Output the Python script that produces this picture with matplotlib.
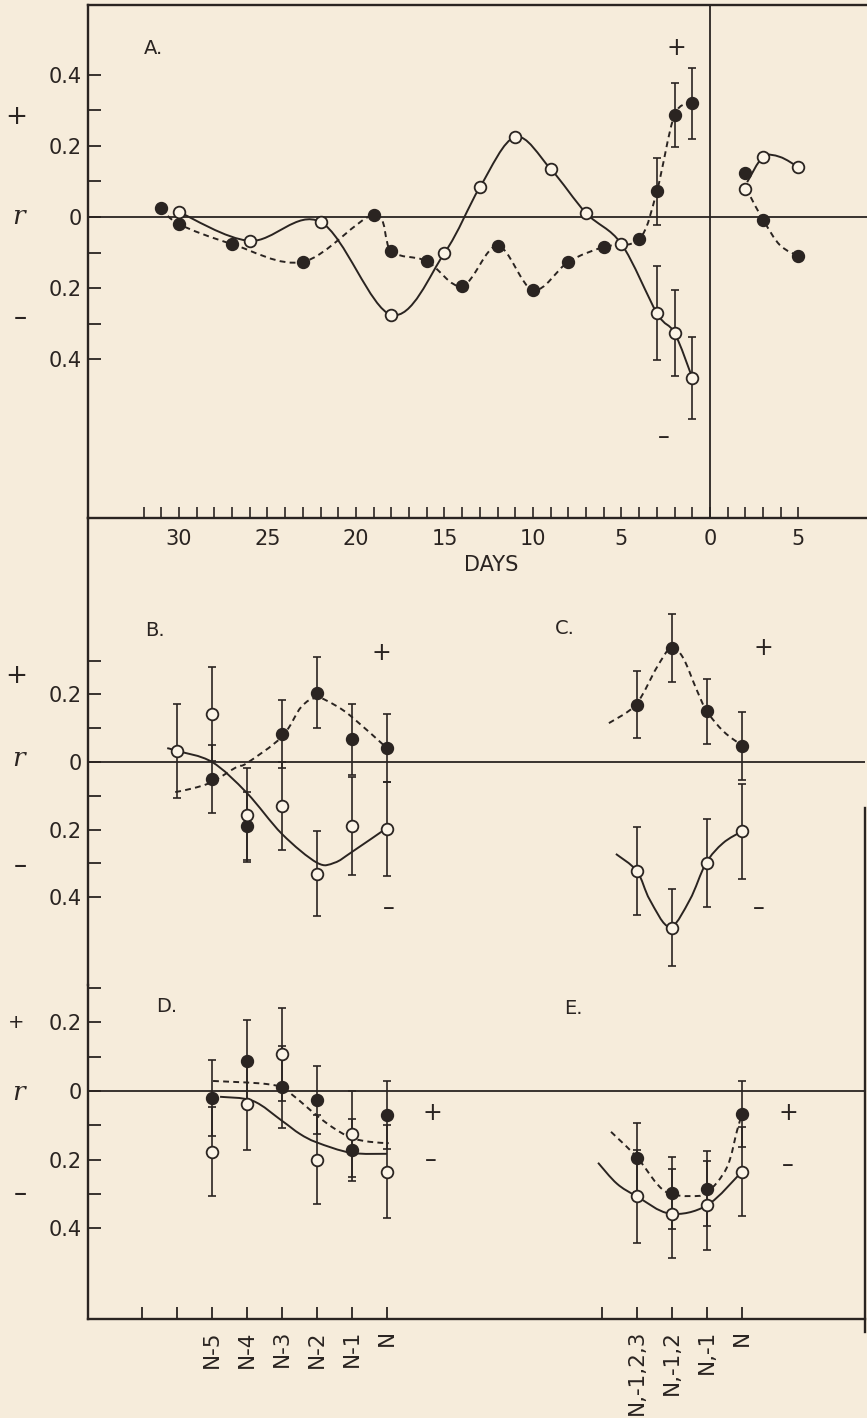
import numpy as np
import matplotlib
matplotlib.use('Agg')
import matplotlib.pyplot as plt
from matplotlib.path import Path
from matplotlib.patches import PathPatch
from matplotlib.lines import Line2D

plt.rcParams['font.family'] = ['DejaVu Sans']

# ------------------------------------------------------------------ data
# Panel A : correlation r versus days before (and after) event day 0
A_fill_days = [31, 30, 27, 23, 19, 18, 16, 14, 12, 10, 8, 6, 4, 3, 2, 1]
A_fill_r = [0.025, -0.02, -0.076, -0.126, 0.006, -0.096, -0.124, -0.194, -0.081,
            -0.205, -0.126, -0.084, -0.062, 0.073, 0.287, 0.32]
A_open_days = [30, 26, 22, 18, 15, 13, 11, 9, 7, 5, 3, 2, 1]
A_open_r = [0.014, -0.067, -0.014, -0.275, -0.101, 0.084, 0.225, 0.135, 0.011,
            -0.076, -0.27, -0.326, -0.452]
A_err_days = [3, 2, 1]
A_fill_err = [0.094, 0.089, 0.10]
A_open_err = [0.132, 0.12, 0.115]
A_after_days = [2, 3, 5]
A_after_fill_r = [0.124, -0.008, -0.11]
A_after_open_r = [0.079, 0.169, 0.14]
# hand-drawn connecting curves after day 0 (days, r)
A_after_solid_x = [2.1, 3, 3.95, 5]
A_after_solid_r = [0.098, 0.169, 0.169, 0.14]
A_after_dash_x = [2.3, 3, 3.95, 5]
A_after_dash_r = [0.056, -0.008, -0.079, -0.11]

A_major_days = [-30, -25, -20, -15, -10, -5, 0, 5]
A_major_labels = ['30', '25', '20', '15', '10', '5', '0', '5']

# Left group categories (panels B, D)
left_cats = ['', '', 'N-5', 'N-4', 'N-3', 'N-2', 'N-1', 'N']
# Right group categories (panels C, E)
right_cats = ['', 'N,-1,2,3', 'N,-1,2', 'N,-1', 'N']

# Panel B (category index into left_cats; 1 = N-6)
B_open_idx = [1, 2, 3, 4, 5, 6, 7]
B_open_r = [0.033, 0.142, -0.157, -0.13, -0.33, -0.19, -0.198]
B_open_err = [0.14, 0.14, 0.14, 0.13, 0.125, 0.145, 0.14]
B_fill_idx = [2, 3, 4, 5, 6, 7]
B_fill_r = [-0.051, -0.19, 0.083, 0.205, 0.068, 0.042]
B_fill_err = [0.10, 0.10, 0.10, 0.105, 0.105, 0.10]
B_solid_x = [0.72, 1, 2, 3, 4, 5, 5.5, 6, 7]
B_solid_r = [0.041, 0.033, 0.0, -0.092, -0.213, -0.298, -0.298, -0.266, -0.195]
B_dash_x = [0.95, 1.45, 2, 2.7, 3, 4, 4.55, 5, 5.5, 6, 7]
B_dash_r = [-0.089, -0.078, -0.059, -0.015, -0.003, 0.075, 0.163, 0.19, 0.169, 0.133, 0.041]

# Panel C (category index into right_cats)
C_idx = [1, 2, 3, 4]
C_fill_r = [0.17, 0.337, 0.15, 0.047]
C_fill_err = [0.10, 0.10, 0.097, 0.10]
C_open_r = [-0.323, -0.49, -0.30, -0.205]
C_open_err = [0.13, 0.115, 0.13, 0.14]
C_dash_x = [0.2, 0.97, 1.57, 1.97, 2.31, 2.71, 3.0, 3.49, 4.03]
C_dash_r = [0.115, 0.17, 0.28, 0.337, 0.31, 0.213, 0.15, 0.089, 0.047]
C_solid_x = [0.4, 1.0, 1.37, 1.94, 2.51, 2.97, 3.46, 4.0]
C_solid_r = [-0.272, -0.323, -0.408, -0.488, -0.408, -0.30, -0.24, -0.205]

# Panel D (category index into left_cats)
D_idx = [2, 3, 4, 5, 6, 7]
D_fill_r = [-0.02, 0.087, 0.012, -0.026, -0.171, -0.07]
D_fill_err = [0.11, 0.12, 0.12, 0.10, 0.09, 0.10]
D_open_r = [-0.177, -0.038, 0.107, -0.2, -0.125, -0.235]
D_open_err = [0.13, 0.135, 0.135, 0.13, 0.125, 0.135]
D_dash_x = [2.03, 3.57, 4.14, 5.0, 5.46, 5.97, 6.5, 7.05]
D_dash_r = [0.029, 0.02, 0.0, -0.072, -0.107, -0.136, -0.148, -0.152]
D_solid_x = [2.23, 3.17, 4.0, 4.51, 5.0, 5.97, 7.0]
D_solid_r = [-0.017, -0.029, -0.087, -0.125, -0.15, -0.18, -0.183]

# Panel E (category index into right_cats)
E_idx = [1, 2, 3, 4]
E_fill_r = [-0.194, -0.296, -0.284, -0.067]
E_fill_err = [0.10, 0.105, 0.11, 0.095]
E_open_r = [-0.307, -0.357, -0.333, -0.235]
E_open_err = [0.135, 0.13, 0.13, 0.13]
E_dash_x = [0.26, 1.0, 1.57, 1.94, 2.51, 3.0, 3.57, 3.86, 4.0]
E_dash_r = [-0.119, -0.193, -0.27, -0.299, -0.306, -0.296, -0.223, -0.116, -0.067]
E_solid_x = [-0.11, 0.43, 1.0, 1.94, 3.0, 4.0]
E_solid_r = [-0.209, -0.27, -0.307, -0.357, -0.333, -0.235]

# r-axis ticks
A_r_major = [0.4, 0.2, 0.0, -0.2, -0.4]
A_r_labels = ['0.4', '0.2', '0', '0.2', '0.4']
A_r_minor = [0.3, 0.1, -0.1, -0.3]
low_r_major = [0.2, 0.0, -0.2, -0.4]
low_r_labels = ['0.2', '0', '0.2', '0.4']
low_r_minor = [0.3, 0.1, -0.1, -0.3]

# ------------------------------------------------------------------ style
W, H = 867, 1418
BG = '#f6ecdb'
INK = '#2a2421'
OPEN_FACE = '#fbf4e7'
RIGHT_OFF = 13.14      # position of the right category group

fig = plt.figure(figsize=(W / 100, H / 100), dpi=100, facecolor=BG)


def px_axes(x0, y0, x1, y1):
    ax = fig.add_axes([x0 / W, 1 - y1 / H, (x1 - x0) / W, (y1 - y0) / H])
    ax.set_facecolor('none')
    for s in ax.spines.values():
        s.set_color(INK)
        s.set_linewidth(1.7)
    return ax


def ftext(px, py, s, **kw):
    kw.setdefault('ha', 'center')
    kw.setdefault('va', 'center')
    kw.setdefault('color', INK)
    fig.text(px / W, 1 - py / H, s, **kw)


def smooth_path(xs, ys):
    pts = np.column_stack([np.asarray(xs, float), np.asarray(ys, float)])
    n = len(pts)
    verts = [pts[0]]
    codes = [Path.MOVETO]
    for i in range(n - 1):
        p0 = pts[i - 1] if i > 0 else pts[i]
        p1, p2 = pts[i], pts[i + 1]
        p3 = pts[i + 2] if i + 2 < n else pts[i + 1]
        verts += [p1 + (p2 - p0) / 6.0, p2 - (p3 - p1) / 6.0, p2]
        codes += [Path.CURVE4] * 3
    return Path(verts, codes)


def curve(ax, xs, ys, dashed):
    ls = (0, (3.0, 2.2)) if dashed else '-'
    ax.add_patch(PathPatch(smooth_path(xs, ys), fill=False, ec=INK, lw=1.4,
                           ls=ls, zorder=2, capstyle='butt', clip_on=False))


def errs(ax, x, y, e):
    c = ax.errorbar(x, y, yerr=e, fmt='none', ecolor=INK, elinewidth=1.2,
                    capsize=3.0, capthick=1.2, zorder=3)
    for a in c.get_children():
        a.set_clip_on(False)


def filled(ax, x, y):
    ax.plot(x, y, 'o', ls='none', ms=8.6, mfc=INK, mec=INK, zorder=5, clip_on=False)


def opened(ax, x, y):
    ax.plot(x, y, 'o', ls='none', ms=8.4, mfc=OPEN_FACE, mec=INK, mew=1.3,
            zorder=5, clip_on=False)


def r_axis(ax, major, labels, minor, ylim):
    ax.set_yticks(major)
    ax.set_yticklabels(labels)
    ax.set_yticks(minor, minor=True)
    ax.set_ylim(*ylim)
    ax.tick_params(axis='y', which='both', direction='in', length=9, width=1.3,
                   color=INK, labelsize=15, labelcolor=INK, pad=4.5,
                   left=True, right=False)


# ------------------------------------------------------------------ panel A
axA = px_axes(88, 5, 867, 518)
axA.set_xlim(-35.14, 8.87)
axA.spines['right'].set_visible(False)
axA.axhline(0, color=INK, lw=1.3, zorder=1)
axA.axvline(0, color=INK, lw=1.3, zorder=1)
r_axis(axA, A_r_major, A_r_labels, A_r_minor, (-0.846, 0.596))
axA.set_xticks(A_major_days)
axA.set_xticklabels(A_major_labels)
minor_days = [-d for d in range(1, 33)] + list(range(1, 6))
axA.set_xticks([d for d in minor_days if d not in A_major_days], minor=True)
axA.set_xlim(-35.14, 8.87)
axA.tick_params(axis='x', which='both', direction='in', length=8, width=1.2,
                color=INK, labelsize=15, labelcolor=INK, pad=8,
                top=False, bottom=True)

fx = [-d for d in A_fill_days]
ox = [-d for d in A_open_days]
curve(axA, ox, A_open_r, dashed=False)
curve(axA, fx, A_fill_r, dashed=True)
curve(axA, A_after_solid_x, A_after_solid_r, dashed=False)
curve(axA, A_after_dash_x, A_after_dash_r, dashed=True)
ex = [-d for d in A_err_days]
errs(axA, ex, A_fill_r[-3:], A_fill_err)
errs(axA, ex, A_open_r[-3:], A_open_err)
filled(axA, fx, A_fill_r)
opened(axA, ox, A_open_r)
filled(axA, A_after_days, A_after_fill_r)
opened(axA, A_after_days, A_after_open_r)

# ------------------------------------------------------------------ panels B, C
XL = (-1.543, 20.657)
SPLIT = 985   # pixel row separating the B/C and D/E blocks
axBC = px_axes(88, 518, 865, SPLIT)
axBC.set_xlim(*XL)
for s in ('top', 'right', 'bottom'):
    axBC.spines[s].set_visible(False)
axBC.tick_params(axis='x', which='both', bottom=False, top=False,
                 labelbottom=False)
axBC.axhline(0, color=INK, lw=1.3, zorder=1)
r_axis(axBC, low_r_major, low_r_labels, low_r_minor,
       ((762 - SPLIT) / 338, (762 - 518) / 338))

curve(axBC, B_solid_x, B_solid_r, dashed=False)
curve(axBC, B_dash_x, B_dash_r, dashed=True)
errs(axBC, B_open_idx, B_open_r, B_open_err)
errs(axBC, B_fill_idx, B_fill_r, B_fill_err)
filled(axBC, B_fill_idx, B_fill_r)
opened(axBC, B_open_idx, B_open_r)

cx = [RIGHT_OFF + i for i in C_idx]
curve(axBC, [RIGHT_OFF + v for v in C_dash_x], C_dash_r, dashed=True)
curve(axBC, [RIGHT_OFF + v for v in C_solid_x], C_solid_r, dashed=False)
errs(axBC, cx, C_fill_r, C_fill_err)
errs(axBC, cx, C_open_r, C_open_err)
filled(axBC, cx, C_fill_r)
opened(axBC, cx, C_open_r)

# ------------------------------------------------------------------ panels D, E
axDE = px_axes(88, SPLIT, 865, 1319)
for s in ('top', 'right'):
    axDE.spines[s].set_visible(False)
axDE.axhline(0, color=INK, lw=1.3, zorder=1)
r_axis(axDE, low_r_major, low_r_labels, low_r_minor,
       ((1090 - 1319) / 345, (1090 - SPLIT) / 345 + 0.004))
xt = list(range(len(left_cats))) + [RIGHT_OFF + i for i in range(len(right_cats))]
axDE.set_xticks(xt)
axDE.set_xticklabels(left_cats + right_cats, rotation=90, va='top', ha='center')
axDE.set_xlim(*XL)
axDE.tick_params(axis='x', direction='in', length=9, width=1.3, color=INK,
                 labelsize=15.5, labelcolor=INK, pad=8, top=False, bottom=True)

curve(axDE, D_dash_x, D_dash_r, dashed=True)
curve(axDE, D_solid_x, D_solid_r, dashed=False)
errs(axDE, D_idx, D_fill_r, D_fill_err)
errs(axDE, D_idx, D_open_r, D_open_err)
filled(axDE, D_idx, D_fill_r)
opened(axDE, D_idx, D_open_r)

exs = [RIGHT_OFF + i for i in E_idx]
curve(axDE, [RIGHT_OFF + v for v in E_dash_x], E_dash_r, dashed=True)
curve(axDE, [RIGHT_OFF + v for v in E_solid_x], E_solid_r, dashed=False)
errs(axDE, exs, E_fill_r, E_fill_err)
errs(axDE, exs, E_open_r, E_open_err)
filled(axDE, exs, E_fill_r)
opened(axDE, exs, E_open_r)

# right-hand border of the lower block
fig.add_artist(Line2D([865 / W, 865 / W], [1 - 808 / H, 1 - 1332 / H],
                      transform=fig.transFigure, color=INK, lw=1.7))

# ------------------------------------------------------------------ text
ftext(491, 565, 'DAYS', fontsize=15)
for lab, (x, y) in {'A.': (153, 48), 'B.': (155, 630), 'C.': (565, 629),
                    'D.': (167, 1007), 'E.': (573, 1008)}.items():
    ftext(x, y, lab, fontsize=14)

rkw = dict(fontsize=19, fontstyle='italic', family='DejaVu Serif')
for (py_plus, py_r, py_minus, plus_size) in [(117, 220, 318, 19), (676, 762, 866, 19),
                                              (1023, 1096, 1194, 14)]:
    ftext(16, py_plus, '+', fontsize=plus_size)
    ftext(18, py_r - 3, 'r', **rkw)
    ftext(20, py_minus, '\u2013', fontsize=19)

for (x, y, s) in [(676, 48, '+'), (664, 437, '\u2013'),
                  (381, 653, '+'), (389, 908, '\u2013'),
                  (763, 648, '+'), (759, 908, '\u2013'),
                  (432, 1113, '+'), (431, 1160, '\u2013'),
                  (788, 1113, '+'), (788, 1165, '\u2013')]:
    ftext(x, y, s, fontsize=17)

fig.savefig('out.png', dpi=100, facecolor=BG)
